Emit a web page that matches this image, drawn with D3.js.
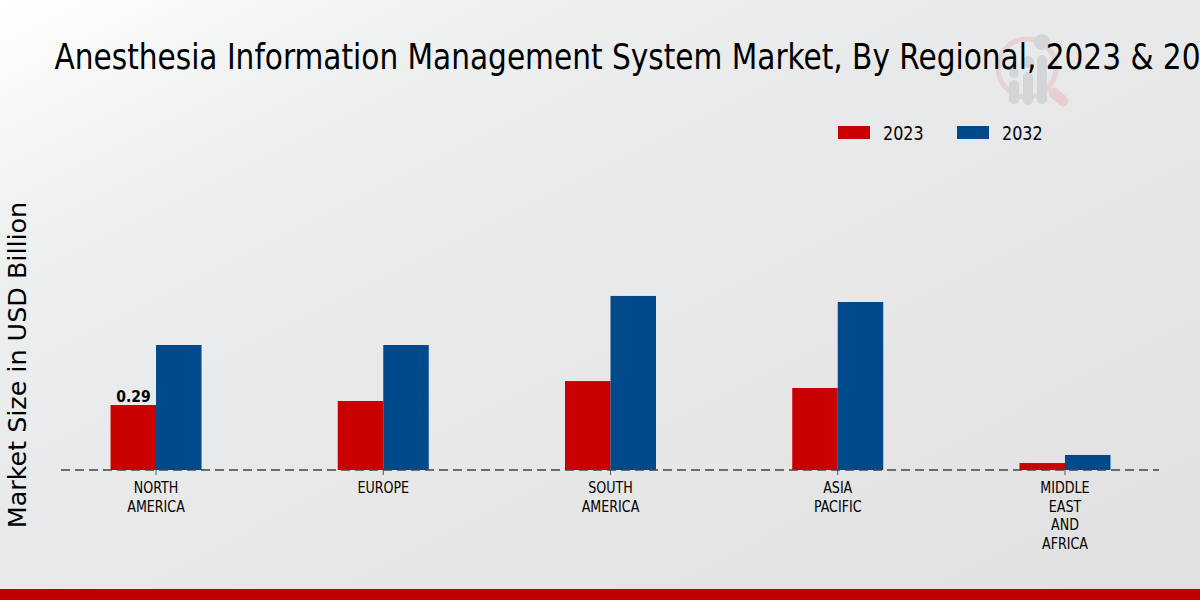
<!DOCTYPE html>
<html><head><meta charset="utf-8">
<script src="https://cdnjs.cloudflare.com/ajax/libs/d3/7.8.5/d3.min.js"></script>
<style>html,body{margin:0;padding:0;overflow:hidden;background:#fff}svg{display:block}
text{font-family:"DejaVu Sans";fill:#000}.c{font-family:"DejaVu Sans Condensed","DejaVu Sans";font-stretch:condensed}</style>
</head><body><svg id="chart" width="1200" height="600"></svg>
<script>
const regions = [["NORTH","AMERICA"],["EUROPE"],["SOUTH","AMERICA"],["ASIA","PACIFIC"],["MIDDLE","EAST","AND","AFRICA"]];
const years = ["2023","2032"];
const values2023 = [0.29,0.308,0.397,0.366,0.031];
const values2032 = [0.558,0.558,0.777,0.75,0.067];
const colors = ["#c80000","#00498b"];
const titleText = "Anesthesia Information Management System Market, By Regional, 2023 & 2032";
const yLabel = "Market Size in USD Billion";

const svg = d3.select("#chart");
const defs = svg.append("defs");
const g = defs.append("linearGradient").attr("id","bg").attr("x1",0).attr("y1",0).attr("x2",1).attr("y2",1);
[[0,"#ffffff"],[0.2,"#eff0f0"],[0.4,"#e9eaeb"],[0.7,"#e6e6e7"],[1,"#e0e0e0"]].forEach(s=>g.append("stop").attr("offset",s[0]).attr("stop-color",s[1]));
svg.append("rect").attr("width",1200).attr("height",600).attr("fill","url(#bg)");

// watermark
const wm = svg.append("g");
wm.append("circle").attr("cx",1027).attr("cy",68).attr("r",29).attr("fill","none").attr("stroke","#e6d3d5").attr("stroke-width",5);
wm.append("line").attr("x1",1054).attr("y1",93).attr("x2",1063).attr("y2",101).attr("stroke","#e9cdd0").attr("stroke-width",11).attr("stroke-linecap","round");
[[1014,80,104],[1028,72,105],[1042,55,104]].forEach(d=>wm.append("rect").attr("x",d[0]-5).attr("y",d[1]).attr("width",10).attr("height",d[2]-d[1]).attr("rx",5).attr("fill","#d3d5d8"));
[[1014,73,5],[1028,62,6],[1042,42,8]].forEach(d=>wm.append("circle").attr("cx",d[0]).attr("cy",d[1]).attr("r",d[2]).attr("fill","#d3d5d8"));

const x = d3.scalePoint().domain(d3.range(regions.length)).range([61.5,1159.5]).padding(0.416);
const y = d3.scaleLinear().domain([0,1]).range([470,246]);
const bw = 45.5;

const series = [values2023, values2032];
series.forEach((vals,s)=>{
  svg.append("g").selectAll("rect").data(vals).join("rect")
    .attr("x",(d,i)=>x(i)+(s-1)*bw)
    .attr("y",d=>y(d))
    .attr("width",bw)
    .attr("height",d=>y(0)-y(d))
    .attr("fill",colors[s]);
});

// baseline axis
svg.append("line").attr("x1",61).attr("x2",1159).attr("y1",y(0)).attr("y2",y(0))
  .attr("stroke","#444").attr("stroke-width",1.3).attr("stroke-dasharray","9,5");
const ax = svg.append("g");
regions.forEach((lines,i)=>{
  ax.append("line").attr("x1",x(i)).attr("x2",x(i)).attr("y1",y(0)).attr("y2",y(0)+5).attr("stroke","#333").attr("stroke-width",0.8);
  lines.forEach((l,k)=>ax.append("text").attr("class","c").attr("text-anchor","middle")
    .attr("transform",`translate(${x(i)},${493+k*18.5}) scale(0.88,1)`)
    .style("font-size","16px").text(l));
});

// data label
svg.append("text").attr("class","c").attr("x",x(0)-22.5).attr("y",y(values2023[0])-3).attr("text-anchor","middle")
  .style("font-size","15.5px").style("font-weight","bold").text(values2023[0]);

// title
svg.append("text").attr("class","c").attr("transform","translate(54.5,69) scale(0.927,1)").style("font-size","35.5px").text(titleText);

// y label
svg.append("text").attr("transform","translate(26,365) rotate(-90)").attr("text-anchor","middle")
  .style("font-size","25.4px").text(yLabel);

// legend
const legendX = [838,957];
years.forEach((yr,i)=>{
  svg.append("rect").attr("x",legendX[i]).attr("y",126).attr("width",32).attr("height",13).attr("fill",colors[i]);
  svg.append("text").attr("class","c").attr("transform",`translate(${legendX[i]+45},139.5) scale(0.91,1)`).style("font-size","19.5px").text(yr);
});

// bottom band
svg.append("rect").attr("x",0).attr("y",589).attr("width",1200).attr("height",11).attr("fill","#c00000");
</script></body></html>
